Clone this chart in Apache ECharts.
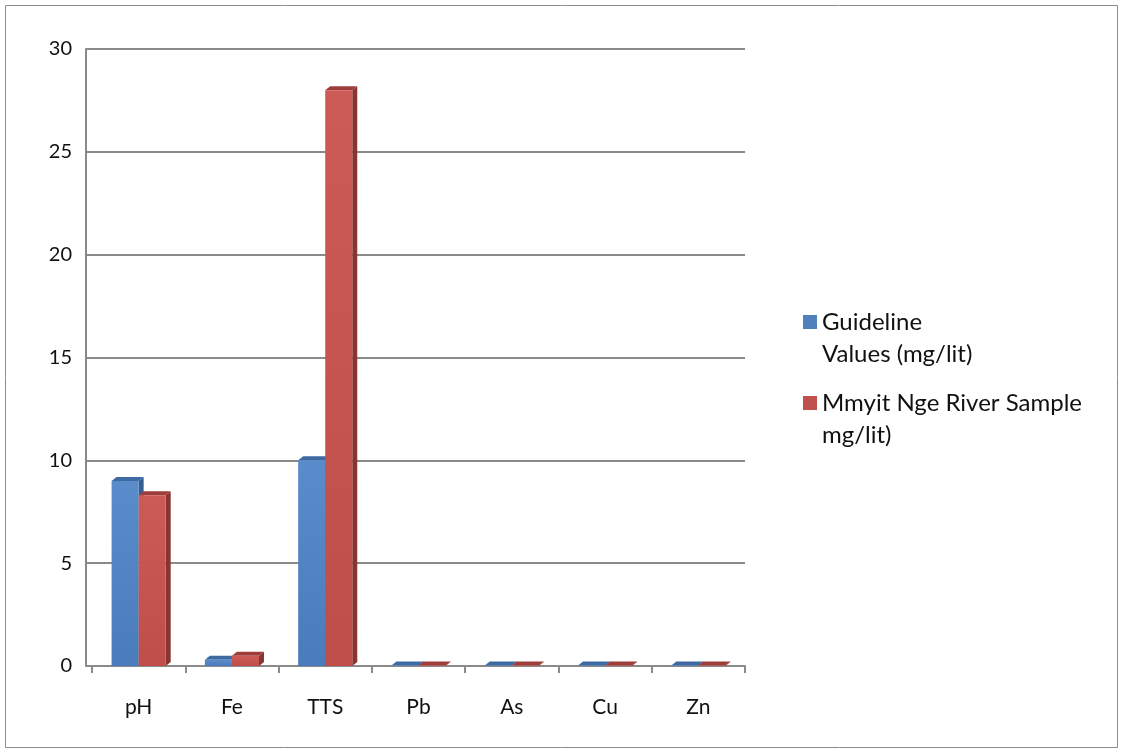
<!DOCTYPE html>
<html>
<head>
<meta charset="utf-8">
<script src="https://cdn.jsdelivr.net/npm/echarts@6/dist/echarts.min.js"></script>
<style>
  html, body { margin: 0; padding: 0; background: #fff; }
  #chart { width: 1125px; height: 755px; }
</style>
</head>
<body>
<div id="chart"></div>
<script>
// Water quality parameters compared with guideline values
const categories = ['pH', 'Fe', 'TTS', 'Pb', 'As', 'Cu', 'Zn'];
const guidelineValues = [9, 0.3, 10, 0.02, 0.02, 0.02, 0.02];
const riverSample = [8.3, 0.5, 28, 0.02, 0.02, 0.02, 0.02];
const seriesNames = ['Guideline\nValues (mg/lit)', 'Mmyit Nge River Sample\nmg/lit)'];
const yTicks = { min: 0, max: 30, interval: 5 };

const FONT = 'Lato, "Liberation Sans", sans-serif';
const GRID_GRAY = '#8a8a8a';

// face colours: front (top, bottom of gradient), side, top cap
const palette = [
  { front: ['#5a8ccb', '#4a7cbb'], side: '#355f93', top: '#3e6aa3', legend: '#4f81bd' },
  { front: ['#cc5b58', '#bf4d4a'], side: '#8a3432', top: '#9e3d3a', legend: '#c0504d' }
];

// Column with a shallow extruded side and top, sized from the category band
function columnRenderer(idx) {
  return function (params, api) {
    const cat = api.value(0);
    const val = api.value(1);
    const base = api.coord([cat, 0]);
    const top = api.coord([cat, val]);
    const band = api.size([1, 0])[0];
    const w = band * 0.29;
    const d = 5, dy = 4;
    const x0 = base[0] - w + idx * w;
    const x1 = x0 + w;
    const c = palette[idx];
    return {
      type: 'group',
      children: [
        {
          type: 'polygon',
          shape: { points: [[x1, top[1]], [x1 + d, top[1] - dy], [x1 + d, base[1] - dy], [x1, base[1]]] },
          style: { fill: c.side }
        },
        {
          type: 'polygon',
          shape: { points: [[x0, top[1]], [x0 + d, top[1] - dy], [x1 + d, top[1] - dy], [x1, top[1]]] },
          style: { fill: c.top }
        },
        {
          type: 'rect',
          shape: { x: x0, y: top[1], width: w, height: base[1] - top[1] },
          style: {
            fill: new echarts.graphic.LinearGradient(0, 0, 0, 1, [
              { offset: 0, color: c.front[0] },
              { offset: 1, color: c.front[1] }
            ])
          }
        }
      ]
    };
  };
}

const chart = echarts.init(document.getElementById('chart'), null, { renderer: 'canvas' });

// Each legend entry is its own component so the swatch sits beside the first line:
// a leading blank line puts the first text line at the swatch's centre.
const lineH = 32;
function legendFor(i, iconCenterY) {
  return {
    data: [seriesNames[i]],
    orient: 'vertical',
    left: 803,
    top: iconCenterY - 1.5 * lineH,
    padding: 0,
    itemWidth: 14,
    itemHeight: 14,
    itemGap: 0,
    icon: 'rect',
    selectedMode: false,
    formatter: name => '\n' + name,
    textStyle: {
      fontFamily: FONT,
      fontSize: 24,
      color: '#111',
      lineHeight: lineH
    }
  };
}

chart.setOption({
  animation: false,
  backgroundColor: '#fff',
  color: palette.map(p => p.legend),
  graphic: [{
    type: 'rect',
    shape: { x: 5.5, y: 5.5, width: 1112, height: 742 },
    style: { fill: 'none', stroke: '#8c8c8c', lineWidth: 1 },
    silent: true
  }],
  legend: [legendFor(0, 322), legendFor(1, 403)],
  grid: { left: 92, right: 380, top: 49, bottom: 89 },
  xAxis: {
    type: 'category',
    data: categories,
    boundaryGap: true,
    offset: 8,
    axisLine: { show: true, lineStyle: { color: GRID_GRAY, width: 2 } },
    axisTick: { show: true, length: 7, lineStyle: { color: GRID_GRAY, width: 2 } },
    axisLabel: { margin: 23, fontFamily: FONT, fontSize: 21, color: '#111' },
    splitLine: { show: false }
  },
  yAxis: {
    type: 'value',
    min: yTicks.min,
    max: yTicks.max,
    interval: yTicks.interval,
    offset: 6,
    axisLine: { show: true, lineStyle: { color: GRID_GRAY, width: 2 } },
    axisTick: { show: true, inside: true, length: 8, lineStyle: { color: GRID_GRAY, width: 2 } },
    axisLabel: { margin: 14, fontFamily: FONT, fontSize: 20, color: '#111' },
    splitLine: { show: true, lineStyle: { color: GRID_GRAY, width: 2 } }
  },
  series: [
    {
      name: seriesNames[0],
      type: 'custom',
      renderItem: columnRenderer(0),
      encode: { x: 0, y: 1 },
      data: guidelineValues.map((v, i) => [i, v]),
      z: 2
    },
    {
      name: seriesNames[1],
      type: 'custom',
      renderItem: columnRenderer(1),
      encode: { x: 0, y: 1 },
      data: riverSample.map((v, i) => [i, v]),
      z: 3
    }
  ]
});
</script>
</body>
</html>
